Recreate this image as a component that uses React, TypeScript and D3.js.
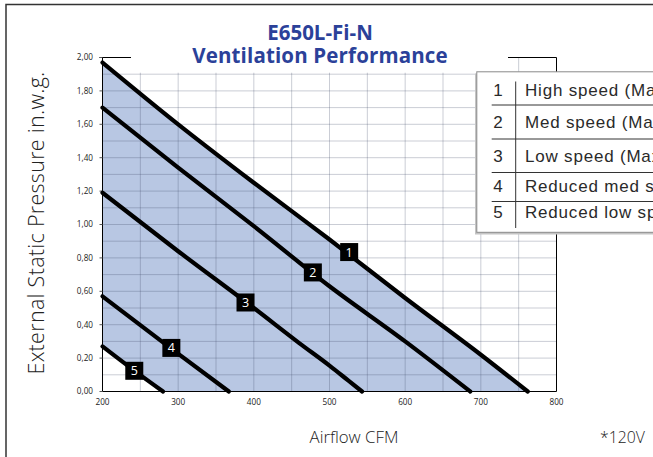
import React from "react";
import * as d3 from "d3";

// airflow (CFM) vs external static pressure (in.w.g.)
const highSpeed = [[200, 1.97], [300, 1.6], [400, 1.25], [500, 0.91], [600, 0.56], [700, 0.22], [762, 0]];
const medSpeed = [[200, 1.7], [300, 1.34], [400, 0.99], [500, 0.63], [600, 0.3], [686, 0]];
const lowSpeed = [[200, 1.19], [300, 0.84], [400, 0.5], [460, 0.29], [500, 0.155], [525, 0.065], [543, 0]];
const reducedMed = [[200, 0.57], [290, 0.26], [367, 0]];
const reducedLow = [[200, 0.27], [242, 0.125], [280, 0]];

const curveIds = ["1", "2", "3", "4", "5"];
const labelCfm = [526, 478, 389, 291, 242];
const labelPressure = [0.835, 0.713, 0.533, 0.261, 0.124];

const legendLabels = [
  "High speed (Max)",
  "Med speed (Max)",
  "Low speed (Max)",
  "Reduced med speed",
  "Reduced low speed",
];

const cfmTicks = [200, 300, 400, 500, 600, 700, 800];
const pressureTicks = [0, 0.2, 0.4, 0.6, 0.8, 1.0, 1.2, 1.4, 1.6, 1.8, 2.0];
const cfmGrid = [250, 300, 350, 400, 450, 500, 550, 600, 650, 700, 750];
const pressureGrid = [0.1, 0.2, 0.3, 0.4, 0.5, 0.6, 0.7, 0.8, 0.9, 1.0, 1.1, 1.2, 1.3, 1.4, 1.5, 1.6, 1.7, 1.8, 1.9];

const W = 653;
const H = 457;
const TITLE_BLUE = "#2b4199";
const FILL = "#b8c7e3";
// legend row baselines (layout only)
const legendRows = [96, 128, 161.5, 191.5, 218];
const legendSeps = [105, 139, 172.5, 201.5];

export default function App() {
  const x = d3.scaleLinear().domain([200, 800]).range([102.5, 556.5]);
  const y = d3.scaleLinear().domain([0, 2]).range([391.5, 57.5]);

  const line = d3
    .line<number[]>()
    .x((d) => x(d[0]))
    .y((d) => y(d[1]))
    .curve(d3.curveMonotoneX);

  const curves = [highSpeed, medSpeed, lowSpeed, reducedMed, reducedLow];
  const lowEnd = reducedLow[reducedLow.length - 1];
  const fillPath =
    line(highSpeed) +
    `L${x(lowEnd[0])},${y(0)}` +
    line(reducedLow.slice().reverse())!.replace(/^M/, "L") +
    "Z";

  const fmt = (v: number) => v.toFixed(2).replace(".", ",");
  const sans = "'Open Sans', 'DejaVu Sans', sans-serif";
  const helv = "'Liberation Sans', Arial, sans-serif";

  return (
    <svg
      width={W}
      height={H}
      style={{ position: "absolute", left: 0, top: 0, background: "#fff" }}
    >
      {/* outer frame */}
      <rect x={6} y={4.5} width={W + 20} height={H + 20} fill="#fff" stroke="#333" strokeWidth={1.5} />

      {/* performance area */}
      <path d={fillPath} fill={FILL} />

      {/* grid */}
      <g stroke="rgba(60,70,100,0.27)" strokeWidth={1}>
        {cfmGrid.map((c) => (
          <line key={"v" + c} x1={x(c)} x2={x(c)} y1={y(2)} y2={y(0)} />
        ))}
        {pressureGrid.map((p) => (
          <line key={"h" + p} x1={x(200)} x2={x(800)} y1={y(p)} y2={y(p)} />
        ))}
      </g>

      {/* white title backing over top of plot */}
      <rect x={131} y={20} width={377} height={y(1.9) - 21.5} fill="#fff" />

      {/* plot frame */}
      <g stroke="#000" strokeWidth={1} fill="none">
        <line x1={x(200)} x2={x(200)} y1={y(2)} y2={y(0)} />
        <line x1={x(200)} x2={x(800)} y1={y(0)} y2={y(0)} />
        <line x1={x(800)} x2={x(800)} y1={y(2)} y2={y(0)} />
        <line x1={x(200) - 3} x2={131} y1={y(2)} y2={y(2)} />
        <line x1={508} x2={x(800)} y1={y(2)} y2={y(2)} />
        {pressureTicks.map((p) => (
          <line key={"yt" + p} x1={x(200) - 3} x2={x(200)} y1={y(p)} y2={y(p)} stroke="#555" />
        ))}
      </g>

      {/* curves */}
      {curves.map((c, i) => (
        <path
          key={"c" + i}
          d={line(c)!}
          fill="none"
          stroke="#000"
          strokeWidth={4.2}
          strokeLinecap="round"
          strokeLinejoin="round"
        />
      ))}

      {/* curve labels */}
      {curveIds.map((id, i) => (
        <g key={"l" + id} transform={`translate(${x(labelCfm[i])},${y(labelPressure[i])})`}>
          <rect x={-9} y={-9} width={18} height={18} fill="#000" />
          <text
            y={4.5}
            textAnchor="middle"
            fill="#fff"
            fontFamily={sans}
            fontSize={12.5}
          >
            {id}
          </text>
        </g>
      ))}

      {/* tick labels */}
      <g fontFamily={sans} fontSize={8.2} fill="#222">
        {pressureTicks.map((p) => (
          <text key={"yl" + p} x={93} y={y(p) + 2.8} textAnchor="end">
            {fmt(p)}
          </text>
        ))}
        {cfmTicks.map((c) => (
          <text key={"xl" + c} x={x(c)} y={405} textAnchor="middle">
            {c}
          </text>
        ))}
      </g>

      {/* title */}
      <g fontFamily={sans} fontWeight={700} fill={TITLE_BLUE} textAnchor="middle" fontSize={20.5}>
        <text x={320} y={39.5}>E650L-Fi-N</text>
        <text x={320} y={63} letterSpacing={0.15}>Ventilation Performance</text>
      </g>

      {/* axis titles */}
      <text
        transform="translate(43.5,223) rotate(-90)"
        textAnchor="middle"
        fontFamily={sans}
        fontWeight={300}
        fontSize={21.5}
        letterSpacing={0.3}
        fill="#222"
      >
        External Static Pressure in.w.g.
      </text>
      <text x={354} y={443} textAnchor="middle" fontFamily={sans} fontWeight={300} fontSize={16.8} fill="#222">
        Airflow CFM
      </text>
      <text x={600} y={443} fontFamily={sans} fontWeight={300} fontSize={15.8} fill="#222">
        *120V
      </text>

      {/* legend */}
      <g>
        <rect x={475} y={73.5} width={200} height={161} fill="#c4c4c4" />
        <rect x={476.8} y={71.8} width={200} height={160.5} fill="#fff" stroke="#8a8a8a" strokeWidth={1} />
        <line x1={515.7} x2={515.7} y1={81.5} y2={228} stroke="#333" strokeWidth={1} />
        {legendSeps.map((s, i) => (
          <line key={"ls" + i} x1={491.7} x2={W} y1={s} y2={s} stroke="#333" strokeWidth={1} />
        ))}
        {legendLabels.map((t, i) => (
          <g key={"lg" + i} fontFamily={helv} fontSize={17} fill="#2a2a2a">
            <text x={498} y={legendRows[i]} textAnchor="middle">
              {curveIds[i]}
            </text>
            <text x={525} y={legendRows[i]} letterSpacing={0.8}>{t}</text>
          </g>
        ))}
      </g>
    </svg>
  );
}
